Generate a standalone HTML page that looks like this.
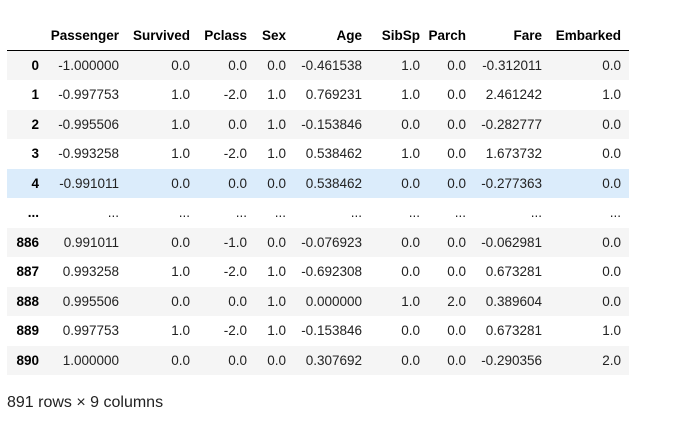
<!DOCTYPE html>
<html><head><meta charset="utf-8"><style>
body{margin:0;background:#fff;width:677px;height:426px;overflow:hidden;font-family:"Liberation Sans",Arial,sans-serif;font-size:13.5px;color:#222;}
table{position:absolute;left:7px;top:20px;border-collapse:collapse;table-layout:fixed;width:622px;}
th,td{text-align:right;padding:0 8px 0 0;white-space:nowrap;overflow:visible;}
thead th{height:30px;border-bottom:1px solid #000;font-weight:bold;color:#000;vertical-align:middle;}
tbody tr{height:29.5px;}
tbody th{font-weight:bold;color:#000;padding-right:5px;}
tbody tr:nth-child(odd){background:#f5f5f5;}
tbody tr.hl{background:#dbecfb;}
.foot{position:absolute;left:7px;top:394px;font-size:16px;color:#222;}
</style></head><body>
<table>
<colgroup><col style="width:37px"><col style="width:83px"><col style="width:71px"><col style="width:57px"><col style="width:39px"><col style="width:76px"><col style="width:58px"><col style="width:46px"><col style="width:76px"><col style="width:79px"></colgroup>
<thead><tr><th></th><th>Passenger</th><th>Survived</th><th>Pclass</th><th>Sex</th><th>Age</th><th>SibSp</th><th>Parch</th><th>Fare</th><th>Embarked</th></tr></thead>
<tbody>
<tr><th>0</th><td>-1.000000</td><td>0.0</td><td>0.0</td><td>0.0</td><td>-0.461538</td><td>1.0</td><td>0.0</td><td>-0.312011</td><td>0.0</td></tr>
<tr><th>1</th><td>-0.997753</td><td>1.0</td><td>-2.0</td><td>1.0</td><td>0.769231</td><td>1.0</td><td>0.0</td><td>2.461242</td><td>1.0</td></tr>
<tr><th>2</th><td>-0.995506</td><td>1.0</td><td>0.0</td><td>1.0</td><td>-0.153846</td><td>0.0</td><td>0.0</td><td>-0.282777</td><td>0.0</td></tr>
<tr><th>3</th><td>-0.993258</td><td>1.0</td><td>-2.0</td><td>1.0</td><td>0.538462</td><td>1.0</td><td>0.0</td><td>1.673732</td><td>0.0</td></tr>
<tr class="hl"><th>4</th><td>-0.991011</td><td>0.0</td><td>0.0</td><td>0.0</td><td>0.538462</td><td>0.0</td><td>0.0</td><td>-0.277363</td><td>0.0</td></tr>
<tr><th>...</th><td>...</td><td>...</td><td>...</td><td>...</td><td>...</td><td>...</td><td>...</td><td>...</td><td>...</td></tr>
<tr><th>886</th><td>0.991011</td><td>0.0</td><td>-1.0</td><td>0.0</td><td>-0.076923</td><td>0.0</td><td>0.0</td><td>-0.062981</td><td>0.0</td></tr>
<tr><th>887</th><td>0.993258</td><td>1.0</td><td>-2.0</td><td>1.0</td><td>-0.692308</td><td>0.0</td><td>0.0</td><td>0.673281</td><td>0.0</td></tr>
<tr><th>888</th><td>0.995506</td><td>0.0</td><td>0.0</td><td>1.0</td><td>0.000000</td><td>1.0</td><td>2.0</td><td>0.389604</td><td>0.0</td></tr>
<tr><th>889</th><td>0.997753</td><td>1.0</td><td>-2.0</td><td>1.0</td><td>-0.153846</td><td>0.0</td><td>0.0</td><td>0.673281</td><td>1.0</td></tr>
<tr><th>890</th><td>1.000000</td><td>0.0</td><td>0.0</td><td>0.0</td><td>0.307692</td><td>0.0</td><td>0.0</td><td>-0.290356</td><td>2.0</td></tr>
</tbody></table>
<div class="foot">891 rows × 9 columns</div>
</body></html>
